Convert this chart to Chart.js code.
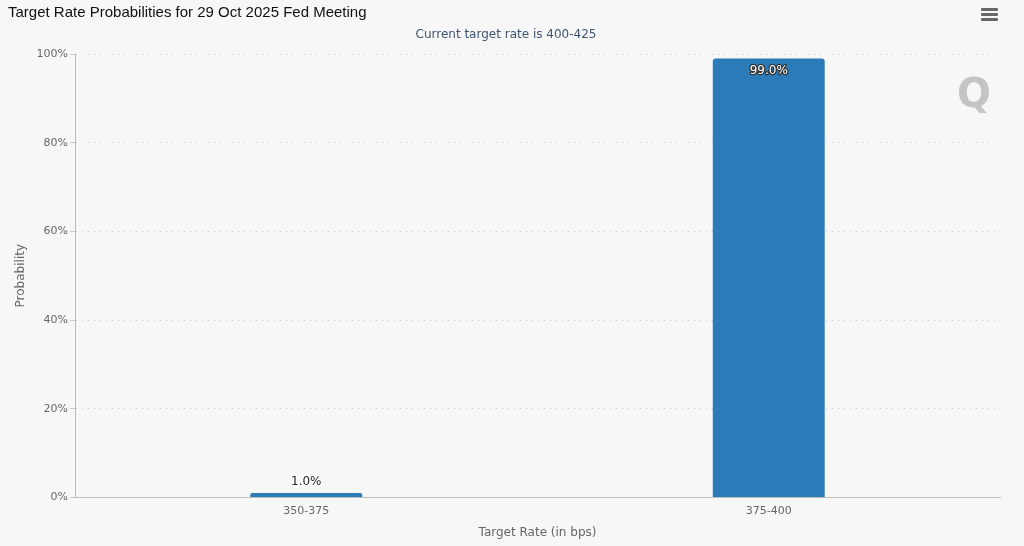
<!DOCTYPE html>
<html><head><meta charset="utf-8">
<script src="https://cdn.jsdelivr.net/npm/chart.js@4/dist/chart.umd.min.js"></script>
<style>
html,body{margin:0;padding:0;background:#f7f7f7;}
#wrap{position:relative;width:1024px;height:546px;}
#menu{position:absolute;left:981px;top:8px;width:17px;}
#menu div{height:2.5px;background:#666;margin-bottom:2.5px;border-radius:1px;}
#logo{position:absolute;left:957px;top:70px;font:bold 40px "DejaVu Sans",sans-serif;color:#c4c4c4;}
#sub{position:absolute;left:0;width:1012px;top:27px;text-align:center;font:12px "DejaVu Sans",sans-serif;color:#3d5470;}
</style></head><body>
<div id="wrap"><canvas id="c" width="1024" height="546"></canvas>
<div id="sub"></div>
<div id="menu"><div></div><div></div><div></div></div>
<div id="logo">Q</div></div>
<script>
const categories = ["350-375", "375-400"];
const probabilities = [1.0, 99.0];
const yTicks = [0, 20, 40, 60, 80, 100];
const titleText = "Target Rate Probabilities for 29 Oct 2025 Fed Meeting";
const subtitleText = "Current target rate is 400-425";
document.getElementById('sub').textContent = subtitleText;

const labelPlugin = {
  id: 'barLabels',
  afterDatasetsDraw(chart) {
    const ctx = chart.ctx;
    const meta = chart.getDatasetMeta(0);
    ctx.save();
    ctx.font = '12px "DejaVu Sans", sans-serif';
    ctx.textAlign = 'center';
    meta.data.forEach((bar, i) => {
      const v = probabilities[i];
      const txt = v.toFixed(1) + '%';
      if (v > 90) {
        ctx.textBaseline = 'top';
        ctx.lineWidth = 2.5; ctx.strokeStyle = '#333'; ctx.lineJoin = 'round';
        ctx.strokeText(txt, bar.x, bar.y + 6);
        ctx.fillStyle = '#fff';
        ctx.fillText(txt, bar.x, bar.y + 6);
      } else {
        ctx.textBaseline = 'bottom';
        ctx.lineWidth = 2.5; ctx.strokeStyle = '#fff'; ctx.lineJoin = 'round';
        ctx.strokeText(txt, bar.x, bar.y - 5);
        ctx.fillStyle = '#222';
        ctx.fillText(txt, bar.x, bar.y - 5);
      }
    });
    ctx.restore();
  }
};

new Chart(document.getElementById('c'), {
  type: 'bar',
  data: {
    labels: categories,
    datasets: [{
      data: probabilities,
      backgroundColor: '#2a7bb7',
      borderRadius: {topLeft: 3, topRight: 3},
      borderSkipped: 'bottom',
      categoryPercentage: 1.0,
      barPercentage: 0.242
    }]
  },
  options: {
    responsive: false,
    animation: false,
    devicePixelRatio: 1,
    layout: {padding: {left: 8, right: 24, top: 4, bottom: 2}},
    plugins: {
      legend: {display: false},
      tooltip: {enabled: false},
      title: {display: true, text: titleText, align: 'start', color: '#111',
        font: {family: '"Liberation Sans", Arial, sans-serif', size: 15, weight: 'normal'},
        padding: {top: 0, bottom: 32}}
    },
    scales: {
      x: {
        grid: {display: false, drawTicks: false},
        border: {display: true, color: '#bbb', width: 1},
        ticks: {color: '#666', font: {family: '"DejaVu Sans", sans-serif', size: 11}, padding: 7},
        title: {display: true, text: 'Target Rate (in bps)', color: '#666',
          font: {family: '"DejaVu Sans", sans-serif', size: 12}, padding: {top: 1}}
      },
      y: {
        min: 0, max: 100,
        afterBuildTicks: s => { s.ticks = yTicks.map(v => ({value: v})); },
        grid: {color: '#c8c8c8', drawTicks: true, tickLength: 5, tickColor: '#ccc'},
        border: {display: true, color: '#bbb', width: 1, dash: [1, 5]},
        ticks: {color: '#666', font: {family: '"DejaVu Sans", sans-serif', size: 11},
          callback: v => v + '%', padding: 2},
        title: {display: true, text: 'Probability', color: '#666',
          font: {family: '"DejaVu Sans", sans-serif', size: 12}, padding: {top: 6, bottom: 12}},
        afterFit: s => { s.width = 67; }
      }
    }
  },
  plugins: [labelPlugin]
});
</script>
</body></html>
